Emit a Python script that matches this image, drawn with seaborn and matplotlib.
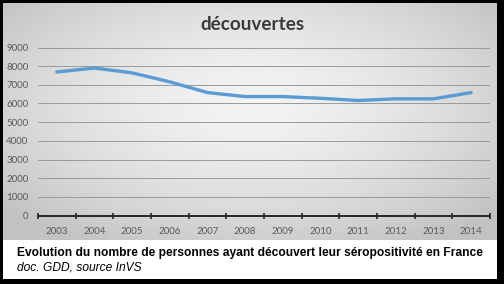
import numpy as np
import pandas as pd
import matplotlib
matplotlib.use("Agg")
import matplotlib.pyplot as plt
import seaborn as sns
from matplotlib.patches import Rectangle

years = ["2003", "2004", "2005", "2006", "2007", "2008", "2009", "2010", "2011", "2012", "2013", "2014"]
discoveries = [7690, 7900, 7640, 7160, 6585, 6370, 6370, 6280, 6160, 6250, 6250, 6585]
y_ticks = [0, 1000, 2000, 3000, 4000, 5000, 6000, 7000, 8000, 9000]
title = "découvertes"
caption1 = "Evolution du nombre de personnes ayant découvert leur séropositivité en France"
caption2 = "doc. GDD, source InVS"

df = pd.DataFrame({"year": years, "value": discoveries})

sns.set_theme(style="white")
W, H = 504, 284
fig = plt.figure(figsize=(W / 100, H / 100), dpi=100, facecolor="black")

def rect(x0, y0, x1, y1):
    # pixel coords (top-left origin) -> figure fraction [l, b, w, h]
    return [x0 / W, 1 - y1 / H, (x1 - x0) / W, (y1 - y0) / H]

# gradient chart panel
bg = fig.add_axes(rect(3, 3, 497, 240))
bg.set_axis_off()
gx = np.linspace(-1, 1, 300)
gy = np.linspace(-1, 1, 150)
X, Y = np.meshgrid(gx, gy)
R = np.sqrt((X * 0.95) ** 2 + ((Y + 0.15) * 0.9) ** 2)
R = np.clip(R / 1.25, 0, 1)
light, dark = 0.95, 0.76
img = light - (light - dark) * R ** 1.6
bg.imshow(img, cmap="gray", vmin=0, vmax=1, aspect="auto", extent=[0, 1, 0, 1])
bg.set_xlim(0, 1); bg.set_ylim(0, 1)

# caption panel
fig.patches.append(Rectangle((3 / W, 1 - 279 / H), 494 / W, 39 / H,
                             transform=fig.transFigure, facecolor="white",
                             edgecolor="none", zorder=0))

# plot axes
ax = fig.add_axes(rect(38, 47.5, 490, 215.5))
ax.patch.set_alpha(0)
sns.lineplot(data=df, x="year", y="value", ax=ax, color="#5b9bd5",
             linewidth=2.4, sort=False)
ax.set_xlim(-0.5, len(years) - 0.5)
ax.set_ylim(0, 9000)
ax.set_yticks(y_ticks)
ax.set_yticklabels([str(v) for v in y_ticks])
ax.set_xlabel("")
ax.set_ylabel("")
for v in y_ticks[1:]:
    ax.axhline(v, color="#9a9a9a", linewidth=0.7, zorder=0)
for s in ["top", "right", "left"]:
    ax.spines[s].set_visible(False)
ax.spines["bottom"].set_color("#262626")
ax.spines["bottom"].set_linewidth(1.4)
ax.set_xticks(np.arange(-0.5, len(years)), minor=True)
ax.tick_params(axis="x", which="minor", direction="inout", length=4,
               width=1.2, color="#262626", bottom=True)
ax.tick_params(axis="x", which="major", length=0, pad=8)
ax.tick_params(axis="y", length=0, pad=7)
for lab in ax.get_xticklabels() + ax.get_yticklabels():
    lab.set_fontfamily("Lato")
    lab.set_fontsize(7)
    lab.set_color("#595959")

fig.text(252 / W, 1 - 24.5 / H, title, ha="center", va="center",
         fontfamily="Lato", fontweight="bold", fontsize=13.6, color="#3a3a3a")
fig.text(17 / W, 1 - 253 / H, caption1, ha="left", va="center",
         fontfamily="Liberation Sans", fontweight="bold", fontsize=8.65, color="black")
fig.text(17 / W, 1 - 268 / H, caption2, ha="left", va="center",
         fontfamily="Liberation Sans", fontstyle="italic", fontsize=8.65, color="black")

fig.savefig("out.png", dpi=100, facecolor="black")
